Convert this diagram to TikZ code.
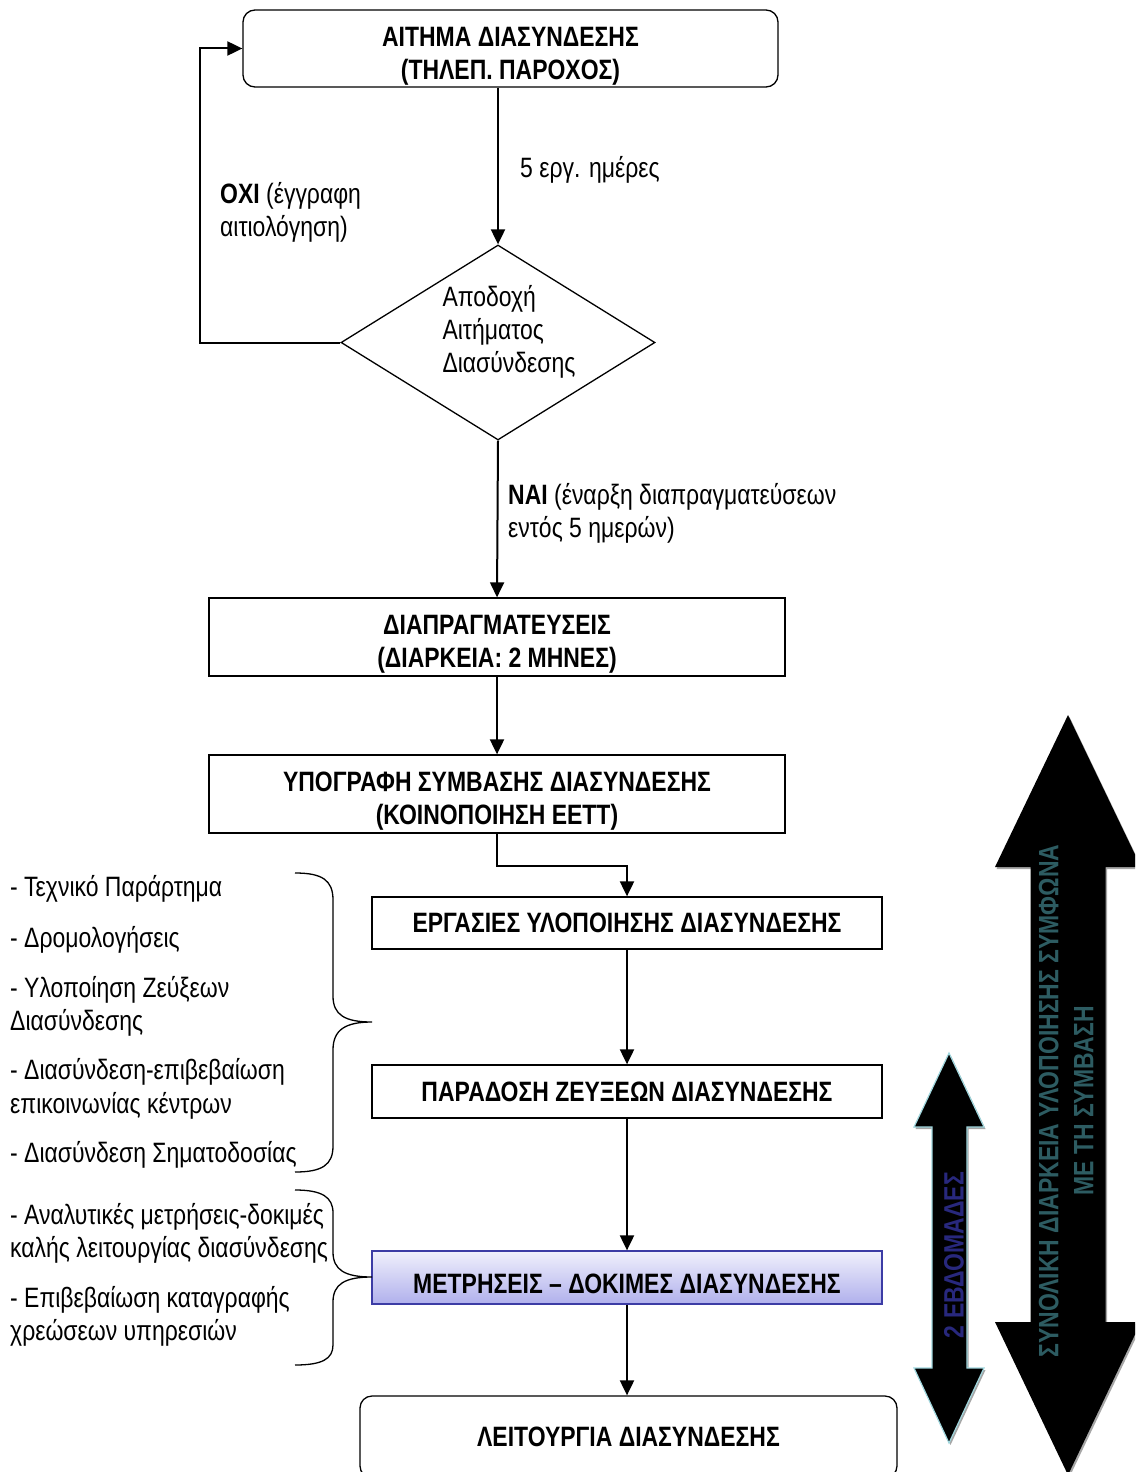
\documentclass[tikz,border=0pt]{standalone}
\usepackage{fontspec}
\setmainfont{Liberation Sans}[FakeStretch=0.82]
\usetikzlibrary{arrows.meta,shapes.geometric}
\definecolor{tealtxt}{RGB}{45,92,98}
\definecolor{navytxt}{RGB}{40,40,125}
\definecolor{lavtop}{RGB}{240,240,252}
\definecolor{lavbot}{RGB}{176,176,236}
\definecolor{lavedge}{RGB}{60,60,165}
\definecolor{cyanedge}{RGB}{160,215,222}
\newcommand{\downstrut}{\rule{0pt}{34pt}}
\begin{document}
\begin{tikzpicture}[x=1pt,y=-1pt,
  txt/.style={font=\fontsize{28}{33}\selectfont, inner sep=0pt},
  lbl/.style={txt, anchor=base west},
  box/.style={draw, line width=1.3pt, inner sep=0pt, align=center,
              font=\fontsize{28}{33}\selectfont\bfseries},
  rbox/.style={box, rounded corners=12pt},
  conn/.style={line width=2pt, -{Triangle[length=15pt,width=14pt]}},
  bracestyle/.style={line width=1.3pt},
  bigarrow/.style={fill=black},
  arrowtext/.style={rotate=90, inner sep=0pt, font=\fontsize{28}{35}\selectfont\bfseries}
]
\useasboundingbox (0,0) rectangle (1135,1472);
\clip (0,0) rectangle (1135,1472);

% --- main boxes ---
\node[rbox, minimum width=535pt, minimum height=77pt] (b1) at (510.5,48.5)
  {\downstrut ΑΙΤΗΜΑ ΔΙΑΣΥΝΔΕΣΗΣ\\(ΤΗΛΕΠ. ΠΑΡΟΧΟΣ)};
\node[draw, line width=1.3pt, shape=diamond, inner sep=0pt,
      minimum width=314pt, minimum height=195pt] (d) at (498,342.5) {};
\node[txt, align=left] (dt) at (509,332) {Αποδοχή\\Αιτήματος\\Διασύνδεσης};
\node[box, minimum width=576pt, minimum height=78pt] (b2) at (497,637)
  {\downstrut ΔΙΑΠΡΑΓΜΑΤΕΥΣΕΙΣ\\(ΔΙΑΡΚΕΙΑ: 2 ΜΗΝΕΣ)};
\node[box, minimum width=576pt, minimum height=78pt] (b3) at (497,794)
  {\downstrut ΥΠΟΓΡΑΦΗ ΣΥΜΒΑΣΗΣ ΔΙΑΣΥΝΔΕΣΗΣ\\(ΚΟΙΝΟΠΟΙΗΣΗ ΕΕΤΤ)};
\node[box, minimum width=510pt, minimum height=52pt] (b4) at (627,923)
  {ΕΡΓΑΣΙΕΣ ΥΛΟΠΟΙΗΣΗΣ ΔΙΑΣΥΝΔΕΣΗΣ};
\node[box, minimum width=510pt, minimum height=53pt] (b5) at (627,1091.5)
  {ΠΑΡΑΔΟΣΗ ΖΕΥΞΕΩΝ ΔΙΑΣΥΝΔΕΣΗΣ};
\node[box, draw=lavedge, top color=lavtop, bottom color=lavbot,
      minimum width=510pt, minimum height=53pt] (b6) at (627,1277.5)
  {\rule{0pt}{33pt}ΜΕΤΡΗΣΕΙΣ – ΔΟΚΙΜΕΣ ΔΙΑΣΥΝΔΕΣΗΣ};
\node[rbox, minimum width=537pt, minimum height=82pt] (b7) at (628.5,1437)
  {ΛΕΙΤΟΥΡΓΙΑ ΔΙΑΣΥΝΔΕΣΗΣ};

% --- connectors ---
\draw[conn] (d.north |- b1.south) -- (d.north);
\draw[conn] (d.west) -- ++(-140,0) |- (b1.west);
\draw[conn] (d.south) -- (b2.north);
\draw[conn] (b2.south) -- (b3.north);
\draw[conn] (b3.south) -- ++(0,32) -| (b4.north);
\draw[conn] (b4.south) -- (b5.north);
\draw[conn] (b5.south) -- (b6.north);
\draw[conn] (b6.south) -- (b6.south |- b7.north);

% --- connector labels ---
\node[lbl] (l5d) at (520,177) {5 εργ. ημέρες};
\node[lbl] (lno1) at (220,203) {\textbf{ΟΧΙ} (έγγραφη};
\node[lbl] (lno2) at (220,236) {αιτιολόγηση)};
\node[lbl] (lyes1) at (508,504) {\textbf{ΝΑΙ} (έναρξη διαπραγματεύσεων};
\node[lbl] (lyes2) at (508,537) {εντός 5 ημερών)};

% --- left lists ---
\node[lbl] (a1) at (10,896) {- Τεχνικό Παράρτημα};
\node[lbl] (a2) at (10,947) {- Δρομολογήσεις};
\node[lbl] (a3) at (10,997) {- Υλοποίηση Ζεύξεων};
\node[lbl] (a3b) at (10,1030) {Διασύνδεσης};
\node[lbl] (a4) at (10,1079) {- Διασύνδεση-επιβεβαίωση};
\node[lbl] (a4b) at (10,1113) {επικοινωνίας κέντρων};
\node[lbl] (a5) at (10,1162) {- Διασύνδεση Σηματοδοσίας};
\node[lbl] (c1) at (10,1224) {- Αναλυτικές μετρήσεις-δοκιμές};
\node[lbl] (c1b) at (10,1257) {καλής λειτουργίας διασύνδεσης};
\node[lbl] (c2) at (10,1307) {- Επιβεβαίωση καταγραφής};
\node[lbl] (c2b) at (10,1340) {χρεώσεων υπηρεσιών};

% --- braces ---
\draw[bracestyle] (295,873) .. controls (322,873) and (333,880) .. (333,900)
  -- (333,996) .. controls (333,1015) and (345,1022) .. (372,1022)
  .. controls (345,1022) and (333,1030) .. (333,1050)
  -- (333,1146) .. controls (333,1165) and (322,1172) .. (295,1172);
\draw[bracestyle] (295,1190) .. controls (322,1190) and (333,1197) .. (333,1213)
  -- (333,1252) .. controls (333,1270) and (345,1277) .. (372,1277)
  .. controls (345,1277) and (333,1284) .. (333,1302)
  -- (333,1345) .. controls (333,1359) and (322,1365) .. (295,1365);

% --- big double arrow ---
\fill[black!35, xshift=1.5pt, yshift=-2pt] (1068,715) -- (1141,867) -- (1105.5,867) -- (1105.5,1322)
  -- (1141,1322) -- (1068,1475) -- (995,1322) -- (1030.5,1322) -- (1030.5,867)
  -- (995,867) -- cycle;
\fill[bigarrow] (1068,715) -- (1141,867) -- (1105.5,867) -- (1105.5,1322)
  -- (1141,1322) -- (1068,1475) -- (995,1322) -- (1030.5,1322) -- (1030.5,867)
  -- (995,867) -- cycle;
\node[arrowtext, align=center, text=tealtxt] (ttot) at (1066,1101)
  {ΣΥΝΟΛΙΚΗ ΔΙΑΡΚΕΙΑ ΥΛΟΠΟΙΗΣΗΣ ΣΥΜΦΩΝΑ\\ΜΕ ΤΗ ΣΥΜΒΑΣΗ};

% --- small double arrow ---
\fill[black!35, xshift=1.5pt, yshift=-2pt] (949,1053) -- (984,1127) -- (967,1127) -- (967,1368)
  -- (984,1368) -- (949,1443) -- (914,1368) -- (932,1368) -- (932,1127)
  -- (914,1127) -- cycle;
\filldraw[bigarrow, draw=cyanedge, line width=1.2pt] (949,1053) -- (984,1127) -- (967,1127) -- (967,1368)
  -- (984,1368) -- (949,1443) -- (914,1368) -- (932,1368) -- (932,1127)
  -- (914,1127) -- cycle;
\node[arrowtext, text=navytxt] (t2w) at (954,1255) {2 ΕΒΔΟΜΑΔΕΣ};
\end{tikzpicture}
\end{document}
